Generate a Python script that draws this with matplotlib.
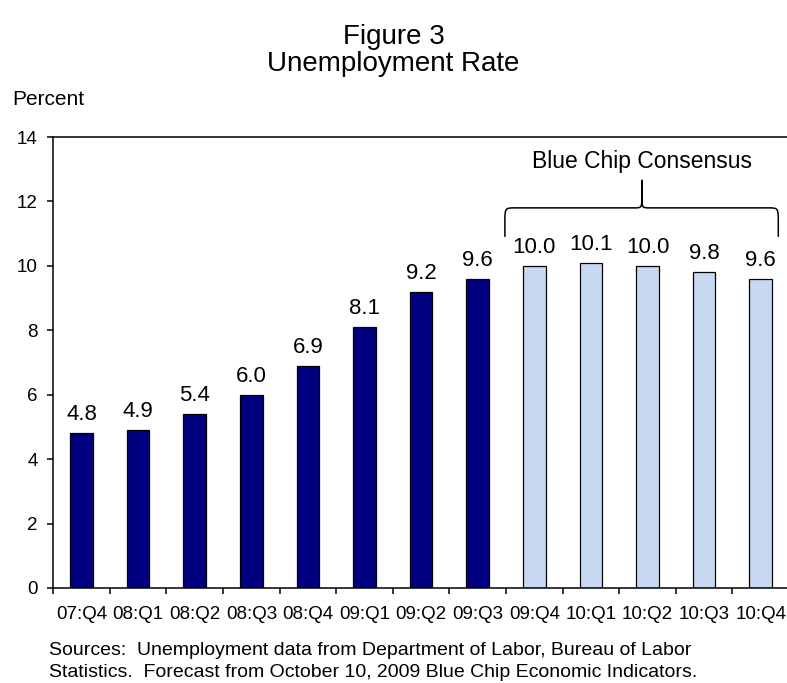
import numpy as np
import matplotlib
matplotlib.use('Agg')
import matplotlib.pyplot as plt
from matplotlib.path import Path
from matplotlib.patches import PathPatch

plt.rcParams['font.family'] = ['Liberation Sans', 'DejaVu Sans']

# data
quarters = ['07:Q4', '08:Q1', '08:Q2', '08:Q3', '08:Q4', '09:Q1', '09:Q2', '09:Q3',
            '09:Q4', '10:Q1', '10:Q2', '10:Q3', '10:Q4']
rates = [4.8, 4.9, 5.4, 6.0, 6.9, 8.1, 9.2, 9.6, 10.0, 10.1, 10.0, 9.8, 9.6]
n_actual = 8

dark = '#000080'
light = '#C6D9F1'

fig = plt.figure(figsize=(7.87, 6.83), dpi=100)
ax = fig.add_axes([0.0676, 0.1391, 0.935, 0.6603])

x = np.arange(len(quarters))
colors = [dark] * n_actual + [light] * (len(quarters) - n_actual)
ax.bar(x, rates, width=0.40, color=colors, edgecolor='black', linewidth=0.9)

for xi, v in zip(x, rates):
    ax.text(xi, v + 0.4, f'{v:.1f}', ha='center', va='baseline', fontsize=16)

ax.set_xlim(-0.5, len(quarters) - 0.5)
ax.set_ylim(0, 14)
ax.set_yticks(range(0, 15, 2))
ax.set_xticks(x)
ax.set_xticklabels(quarters, fontsize=13.5)
ax.set_xticks(np.arange(-0.5, len(quarters), 1), minor=True)
ax.tick_params(axis='x', which='major', length=0, pad=13)
ax.tick_params(axis='x', which='minor', length=4.3, direction='out', width=1.1)
ax.tick_params(axis='y', labelsize=13.5, length=4.3, direction='out', width=1.1, pad=7)
ax.spines['right'].set_visible(False)
for s in ['left', 'bottom', 'top']:
    ax.spines[s].set_linewidth(1.1)

# brace over the forecast quarters
x0, x1, xm = 7.48, 12.31, 9.90
yb, yl, yt = 10.90, 11.80, 12.67
rx, ry = 0.18, 0.47
rx2, ry2 = 0.14, 0.37
verts = [(x0, yb), (x0, yl - ry),
         (x0, yl), (x0, yl), (x0 + rx, yl),
         (xm - rx2, yl),
         (xm, yl), (xm, yl), (xm, yl + ry2),
         (xm, yt), (xm, yl + ry2),
         (xm, yl), (xm, yl), (xm + rx2, yl),
         (x1 - rx, yl),
         (x1, yl), (x1, yl), (x1, yl - ry),
         (x1, yb)]
codes = [Path.MOVETO, Path.LINETO,
         Path.CURVE4, Path.CURVE4, Path.CURVE4,
         Path.LINETO,
         Path.CURVE4, Path.CURVE4, Path.CURVE4,
         Path.LINETO, Path.LINETO,
         Path.CURVE4, Path.CURVE4, Path.CURVE4,
         Path.LINETO,
         Path.CURVE4, Path.CURVE4, Path.CURVE4,
         Path.LINETO]
ax.add_patch(PathPatch(Path(verts, codes), fill=False, lw=1.1, edgecolor='black', clip_on=False))
ax.text(xm, 13.23, 'Blue Chip Consensus', ha='center', va='center', fontsize=16.5)

fig.text(0.5, 0.946, 'Figure 3', ha='center', va='center', fontsize=20)
fig.text(0.5, 0.907, 'Unemployment Rate', ha='center', va='center', fontsize=20)
fig.text(0.015, 0.854, 'Percent', ha='left', va='center', fontsize=15)
fig.text(0.062, 0.048, 'Sources:  Unemployment data from Department of Labor, Bureau of Labor',
         ha='left', va='center', fontsize=14)
fig.text(0.062, 0.016, 'Statistics.  Forecast from October 10, 2009 Blue Chip Economic Indicators.',
         ha='left', va='center', fontsize=14)

fig.savefig('out.png', dpi=100)
